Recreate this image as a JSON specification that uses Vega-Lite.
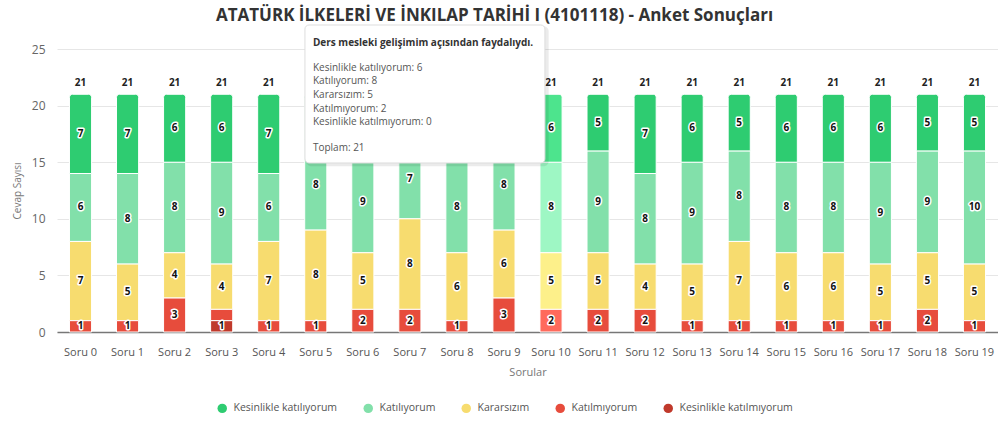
{
  "$schema": "https://vega.github.io/schema/vega-lite/v6.json",
  "autosize": "none",
  "width": 941,
  "height": 283,
  "padding": {"left": 57, "top": 49, "right": 0, "bottom": 91},
  "background": "white",
  "config": {
    "font": "Open Sans",
    "view": {"stroke": null},
    "axis": {"labelFont": "Open Sans", "titleFont": "Open Sans"},
    "legend": {"labelFont": "Open Sans"}
  },
  "title": {
    "text": "ATATÜRK İLKELERİ VE İNKILAP TARİHİ I (4101118) - Anket Sonuçları",
    "fontSize": 17,
    "fontWeight": "bold",
    "color": "#333333",
    "anchor": "middle",
    "dx": -33,
    "offset": 0
  },
  "data": {
    "values": [
      {"soru": "Soru 0", "kategori": "Kesinlikle katılıyorum", "deger": 7},
      {"soru": "Soru 0", "kategori": "Katılıyorum", "deger": 6},
      {"soru": "Soru 0", "kategori": "Kararsızım", "deger": 7},
      {"soru": "Soru 0", "kategori": "Katılmıyorum", "deger": 1},
      {"soru": "Soru 0", "kategori": "Kesinlikle katılmıyorum", "deger": 0},
      {"soru": "Soru 1", "kategori": "Kesinlikle katılıyorum", "deger": 7},
      {"soru": "Soru 1", "kategori": "Katılıyorum", "deger": 8},
      {"soru": "Soru 1", "kategori": "Kararsızım", "deger": 5},
      {"soru": "Soru 1", "kategori": "Katılmıyorum", "deger": 1},
      {"soru": "Soru 1", "kategori": "Kesinlikle katılmıyorum", "deger": 0},
      {"soru": "Soru 2", "kategori": "Kesinlikle katılıyorum", "deger": 6},
      {"soru": "Soru 2", "kategori": "Katılıyorum", "deger": 8},
      {"soru": "Soru 2", "kategori": "Kararsızım", "deger": 4},
      {"soru": "Soru 2", "kategori": "Katılmıyorum", "deger": 3},
      {"soru": "Soru 2", "kategori": "Kesinlikle katılmıyorum", "deger": 0},
      {"soru": "Soru 3", "kategori": "Kesinlikle katılıyorum", "deger": 6},
      {"soru": "Soru 3", "kategori": "Katılıyorum", "deger": 9},
      {"soru": "Soru 3", "kategori": "Kararsızım", "deger": 4},
      {"soru": "Soru 3", "kategori": "Katılmıyorum", "deger": 1},
      {"soru": "Soru 3", "kategori": "Kesinlikle katılmıyorum", "deger": 1},
      {"soru": "Soru 4", "kategori": "Kesinlikle katılıyorum", "deger": 7},
      {"soru": "Soru 4", "kategori": "Katılıyorum", "deger": 6},
      {"soru": "Soru 4", "kategori": "Kararsızım", "deger": 7},
      {"soru": "Soru 4", "kategori": "Katılmıyorum", "deger": 1},
      {"soru": "Soru 4", "kategori": "Kesinlikle katılmıyorum", "deger": 0},
      {"soru": "Soru 5", "kategori": "Kesinlikle katılıyorum", "deger": 4},
      {"soru": "Soru 5", "kategori": "Katılıyorum", "deger": 8},
      {"soru": "Soru 5", "kategori": "Kararsızım", "deger": 8},
      {"soru": "Soru 5", "kategori": "Katılmıyorum", "deger": 1},
      {"soru": "Soru 5", "kategori": "Kesinlikle katılmıyorum", "deger": 0},
      {"soru": "Soru 6", "kategori": "Kesinlikle katılıyorum", "deger": 5},
      {"soru": "Soru 6", "kategori": "Katılıyorum", "deger": 9},
      {"soru": "Soru 6", "kategori": "Kararsızım", "deger": 5},
      {"soru": "Soru 6", "kategori": "Katılmıyorum", "deger": 2},
      {"soru": "Soru 6", "kategori": "Kesinlikle katılmıyorum", "deger": 0},
      {"soru": "Soru 7", "kategori": "Kesinlikle katılıyorum", "deger": 4},
      {"soru": "Soru 7", "kategori": "Katılıyorum", "deger": 7},
      {"soru": "Soru 7", "kategori": "Kararsızım", "deger": 8},
      {"soru": "Soru 7", "kategori": "Katılmıyorum", "deger": 2},
      {"soru": "Soru 7", "kategori": "Kesinlikle katılmıyorum", "deger": 0},
      {"soru": "Soru 8", "kategori": "Kesinlikle katılıyorum", "deger": 6},
      {"soru": "Soru 8", "kategori": "Katılıyorum", "deger": 8},
      {"soru": "Soru 8", "kategori": "Kararsızım", "deger": 6},
      {"soru": "Soru 8", "kategori": "Katılmıyorum", "deger": 1},
      {"soru": "Soru 8", "kategori": "Kesinlikle katılmıyorum", "deger": 0},
      {"soru": "Soru 9", "kategori": "Kesinlikle katılıyorum", "deger": 4},
      {"soru": "Soru 9", "kategori": "Katılıyorum", "deger": 8},
      {"soru": "Soru 9", "kategori": "Kararsızım", "deger": 6},
      {"soru": "Soru 9", "kategori": "Katılmıyorum", "deger": 3},
      {"soru": "Soru 9", "kategori": "Kesinlikle katılmıyorum", "deger": 0},
      {"soru": "Soru 10", "kategori": "Kesinlikle katılıyorum", "deger": 6},
      {"soru": "Soru 10", "kategori": "Katılıyorum", "deger": 8},
      {"soru": "Soru 10", "kategori": "Kararsızım", "deger": 5},
      {"soru": "Soru 10", "kategori": "Katılmıyorum", "deger": 2},
      {"soru": "Soru 10", "kategori": "Kesinlikle katılmıyorum", "deger": 0},
      {"soru": "Soru 11", "kategori": "Kesinlikle katılıyorum", "deger": 5},
      {"soru": "Soru 11", "kategori": "Katılıyorum", "deger": 9},
      {"soru": "Soru 11", "kategori": "Kararsızım", "deger": 5},
      {"soru": "Soru 11", "kategori": "Katılmıyorum", "deger": 2},
      {"soru": "Soru 11", "kategori": "Kesinlikle katılmıyorum", "deger": 0},
      {"soru": "Soru 12", "kategori": "Kesinlikle katılıyorum", "deger": 7},
      {"soru": "Soru 12", "kategori": "Katılıyorum", "deger": 8},
      {"soru": "Soru 12", "kategori": "Kararsızım", "deger": 4},
      {"soru": "Soru 12", "kategori": "Katılmıyorum", "deger": 2},
      {"soru": "Soru 12", "kategori": "Kesinlikle katılmıyorum", "deger": 0},
      {"soru": "Soru 13", "kategori": "Kesinlikle katılıyorum", "deger": 6},
      {"soru": "Soru 13", "kategori": "Katılıyorum", "deger": 9},
      {"soru": "Soru 13", "kategori": "Kararsızım", "deger": 5},
      {"soru": "Soru 13", "kategori": "Katılmıyorum", "deger": 1},
      {"soru": "Soru 13", "kategori": "Kesinlikle katılmıyorum", "deger": 0},
      {"soru": "Soru 14", "kategori": "Kesinlikle katılıyorum", "deger": 5},
      {"soru": "Soru 14", "kategori": "Katılıyorum", "deger": 8},
      {"soru": "Soru 14", "kategori": "Kararsızım", "deger": 7},
      {"soru": "Soru 14", "kategori": "Katılmıyorum", "deger": 1},
      {"soru": "Soru 14", "kategori": "Kesinlikle katılmıyorum", "deger": 0},
      {"soru": "Soru 15", "kategori": "Kesinlikle katılıyorum", "deger": 6},
      {"soru": "Soru 15", "kategori": "Katılıyorum", "deger": 8},
      {"soru": "Soru 15", "kategori": "Kararsızım", "deger": 6},
      {"soru": "Soru 15", "kategori": "Katılmıyorum", "deger": 1},
      {"soru": "Soru 15", "kategori": "Kesinlikle katılmıyorum", "deger": 0},
      {"soru": "Soru 16", "kategori": "Kesinlikle katılıyorum", "deger": 6},
      {"soru": "Soru 16", "kategori": "Katılıyorum", "deger": 8},
      {"soru": "Soru 16", "kategori": "Kararsızım", "deger": 6},
      {"soru": "Soru 16", "kategori": "Katılmıyorum", "deger": 1},
      {"soru": "Soru 16", "kategori": "Kesinlikle katılmıyorum", "deger": 0},
      {"soru": "Soru 17", "kategori": "Kesinlikle katılıyorum", "deger": 6},
      {"soru": "Soru 17", "kategori": "Katılıyorum", "deger": 9},
      {"soru": "Soru 17", "kategori": "Kararsızım", "deger": 5},
      {"soru": "Soru 17", "kategori": "Katılmıyorum", "deger": 1},
      {"soru": "Soru 17", "kategori": "Kesinlikle katılmıyorum", "deger": 0},
      {"soru": "Soru 18", "kategori": "Kesinlikle katılıyorum", "deger": 5},
      {"soru": "Soru 18", "kategori": "Katılıyorum", "deger": 9},
      {"soru": "Soru 18", "kategori": "Kararsızım", "deger": 5},
      {"soru": "Soru 18", "kategori": "Katılmıyorum", "deger": 2},
      {"soru": "Soru 18", "kategori": "Kesinlikle katılmıyorum", "deger": 0},
      {"soru": "Soru 19", "kategori": "Kesinlikle katılıyorum", "deger": 5},
      {"soru": "Soru 19", "kategori": "Katılıyorum", "deger": 10},
      {"soru": "Soru 19", "kategori": "Kararsızım", "deger": 5},
      {"soru": "Soru 19", "kategori": "Katılmıyorum", "deger": 1},
      {"soru": "Soru 19", "kategori": "Kesinlikle katılmıyorum", "deger": 0}
    ]
  },
  "resolve": {"scale": {"x": "independent"}},
  "layer": [
    {
      "transform": [
        {"calculate": "indexof(['Kesinlikle katılmıyorum','Katılmıyorum','Kararsızım','Katılıyorum','Kesinlikle katılıyorum'], datum.kategori)", "as": "sira"},
        {"stack": "deger", "groupby": ["soru"], "sort": [{"field": "sira", "order": "ascending"}], "as": ["alt", "ust"]},
        {"calculate": "(datum.alt + datum.ust) / 2", "as": "orta"},
        {"calculate": "indexof(['Soru 5','Soru 6','Soru 7','Soru 8','Soru 9'], datum.soru) >= 0", "as": "ortuk"}
      ],
      "encoding": {
        "x": {
          "field": "soru",
          "type": "nominal",
          "sort": ["Soru 0","Soru 1","Soru 2","Soru 3","Soru 4","Soru 5","Soru 6","Soru 7","Soru 8","Soru 9","Soru 10","Soru 11","Soru 12","Soru 13","Soru 14","Soru 15","Soru 16","Soru 17","Soru 18","Soru 19"],
          "scale": {"paddingInner": 0.53, "paddingOuter": 0.265},
          "axis": {
            "title": "Sorular",
            "titleFontSize": 11,
            "titleFontWeight": "normal",
            "titleColor": "#777777",
            "titlePadding": 9,
            "labelAngle": 0,
            "labelFontSize": 11,
            "labelColor": "#555555",
            "labelPadding": 14,
            "ticks": false,
            "domainColor": "#777777",
            "domainWidth": 1.5,
            "grid": false
          }
        }
      },
      "layer": [
        {
          "transform": [{"filter": "datum.deger > 0 && datum.soru !== 'Soru 10' && datum.kategori !== 'Kesinlikle katılıyorum'"}],
          "mark": {"type": "bar", "stroke": "white", "strokeWidth": 1},
          "encoding": {
            "y": {
              "field": "ust",
              "type": "quantitative",
              "scale": {"domain": [0, 25], "nice": false},
              "axis": {
                "title": "Cevap Sayısı",
                "titleFontSize": 10,
                "titleFontWeight": "normal",
                "titleColor": "#777777",
                "titlePadding": 9,
                "values": [0, 5, 10, 15, 20, 25],
                "labelFontSize": 12,
                "labelColor": "#666666",
                "labelPadding": 12,
                "ticks": false,
                "domain": false,
                "gridColor": "#e6e6e6"
              }
            },
            "y2": {"field": "alt"},
            "color": {
              "field": "kategori",
              "type": "nominal",
              "scale": {
                "domain": ["Kesinlikle katılıyorum", "Katılıyorum", "Kararsızım", "Katılmıyorum", "Kesinlikle katılmıyorum"],
                "range": ["#2ecc71", "#82e0aa", "#f7dc6f", "#e74c3c", "#c0392b"]
              },
              "legend": {
                "title": null,
                "orient": "none",
                "direction": "horizontal",
                "columns": 5,
                "columnPadding": 25,
                "legendX": 160,
                "legendY": 354,
                "symbolType": "circle",
                "symbolSize": 90,
                "symbolStrokeWidth": 0,
                "labelFontSize": 10.5,
                "labelColor": "#555555",
                "labelOffset": 6
              }
            }
          }
        },
        {
          "transform": [{"filter": "datum.deger > 0 && datum.soru !== 'Soru 10' && datum.kategori === 'Kesinlikle katılıyorum'"}],
          "mark": {"type": "bar", "stroke": "white", "strokeWidth": 1, "cornerRadiusTopLeft": 3, "cornerRadiusTopRight": 3},
          "encoding": {
            "y": {"field": "ust", "type": "quantitative"},
            "y2": {"field": "alt"},
            "color": {"field": "kategori", "type": "nominal"}
          }
        },
        {
          "transform": [{"filter": "datum.deger > 0 && datum.soru === 'Soru 10' && datum.kategori !== 'Kesinlikle katılıyorum'"}],
          "mark": {"type": "bar", "stroke": "white", "strokeWidth": 1},
          "encoding": {
            "y": {"field": "ust", "type": "quantitative"},
            "y2": {"field": "alt"},
            "fill": {
              "field": "kategori",
              "type": "nominal",
              "scale": {
                "domain": ["Kesinlikle katılıyorum", "Katılıyorum", "Kararsızım", "Katılmıyorum", "Kesinlikle katılmıyorum"],
                "range": ["#4de48d", "#9ef7c4", "#fdf08a", "#ff6a5c", "#d94432"]
              },
              "legend": null
            }
          }
        },
        {
          "transform": [{"filter": "datum.deger > 0 && datum.soru === 'Soru 10' && datum.kategori === 'Kesinlikle katılıyorum'"}],
          "mark": {"type": "bar", "stroke": "white", "strokeWidth": 1, "cornerRadiusTopLeft": 3, "cornerRadiusTopRight": 3},
          "encoding": {
            "y": {"field": "ust", "type": "quantitative"},
            "y2": {"field": "alt"},
            "fill": {"field": "kategori", "type": "nominal", "legend": null}
          }
        },
        {
          "transform": [{"filter": "datum.deger > 0 && !(datum.soru === 'Soru 3' && datum.kategori === 'Katılmıyorum') && !(datum.ortuk && datum.orta > 15)"}],
          "mark": {"type": "text", "fontSize": 10, "fontWeight": "bold", "color": "white", "stroke": "white", "strokeWidth": 3, "strokeJoin": "round", "baseline": "middle"},
          "encoding": {
            "y": {"field": "orta", "type": "quantitative"},
            "text": {"field": "deger", "type": "quantitative"}
          }
        },
        {
          "transform": [{"filter": "datum.deger > 0 && !(datum.soru === 'Soru 3' && datum.kategori === 'Katılmıyorum') && !(datum.ortuk && datum.orta > 15)"}],
          "mark": {"type": "text", "fontSize": 10, "fontWeight": "bold", "color": "#111111", "baseline": "middle"},
          "encoding": {
            "y": {"field": "orta", "type": "quantitative"},
            "text": {"field": "deger", "type": "quantitative"}
          }
        },
        {
          "transform": [
            {"filter": "!datum.ortuk"},
            {"aggregate": [{"op": "sum", "field": "deger", "as": "toplam"}], "groupby": ["soru"]}
          ],
          "mark": {"type": "text", "fontSize": 10, "fontWeight": "bold", "color": "#222222", "baseline": "middle", "dy": -11},
          "encoding": {
            "y": {"field": "toplam", "type": "quantitative"},
            "text": {"field": "toplam", "type": "quantitative"}
          }
        }
      ]
    },
    {
      "data": {"values": [{"baslik": "Ders mesleki gelişimim açısından faydalıydı.", "s1": "Kesinlikle katılıyorum: 6", "s2": "Katılıyorum: 8", "s3": "Kararsızım: 5", "s4": "Katılmıyorum: 2", "s5": "Kesinlikle katılmıyorum: 0", "toplam": "Toplam: 21"}]},
      "encoding": {},
      "layer": [
        {
          "mark": {"type": "rect", "fill": "#000000", "opacity": 0.08, "cornerRadius": 5},
          "encoding": {
            "x": {"datum": 5.30, "type": "quantitative", "scale": {"domain": [0, 20], "nice": false, "zero": false}, "axis": null},
            "x2": {"datum": 10.45},
            "y": {"datum": 27.0, "type": "quantitative"},
            "y2": {"datum": 14.65}
          }
        },
        {
          "mark": {"type": "rect", "fill": "white", "stroke": "#dddddd", "strokeWidth": 1, "cornerRadius": 4},
          "encoding": {
            "x": {"datum": 5.27, "type": "quantitative"},
            "x2": {"datum": 10.37},
            "y": {"datum": 27.12, "type": "quantitative"},
            "y2": {"datum": 14.93}
          }
        },
        {
          "mark": {"type": "text", "align": "left", "baseline": "middle", "fontSize": 10, "fontWeight": "bold", "color": "#333333"},
          "encoding": {"x": {"datum": 5.44, "type": "quantitative"}, "y": {"datum": 25.53, "type": "quantitative"}, "text": {"field": "baslik"}}
        },
        {
          "mark": {"type": "text", "align": "left", "baseline": "middle", "fontSize": 10, "color": "#555555"},
          "encoding": {"x": {"datum": 5.44, "type": "quantitative"}, "y": {"datum": 23.32, "type": "quantitative"}, "text": {"field": "s1"}}
        },
        {
          "mark": {"type": "text", "align": "left", "baseline": "middle", "fontSize": 10, "color": "#555555"},
          "encoding": {"x": {"datum": 5.44, "type": "quantitative"}, "y": {"datum": 22.13, "type": "quantitative"}, "text": {"field": "s2"}}
        },
        {
          "mark": {"type": "text", "align": "left", "baseline": "middle", "fontSize": 10, "color": "#555555"},
          "encoding": {"x": {"datum": 5.44, "type": "quantitative"}, "y": {"datum": 20.94, "type": "quantitative"}, "text": {"field": "s3"}}
        },
        {
          "mark": {"type": "text", "align": "left", "baseline": "middle", "fontSize": 10, "color": "#555555"},
          "encoding": {"x": {"datum": 5.44, "type": "quantitative"}, "y": {"datum": 19.74, "type": "quantitative"}, "text": {"field": "s4"}}
        },
        {
          "mark": {"type": "text", "align": "left", "baseline": "middle", "fontSize": 10, "color": "#555555"},
          "encoding": {"x": {"datum": 5.44, "type": "quantitative"}, "y": {"datum": 18.55, "type": "quantitative"}, "text": {"field": "s5"}}
        },
        {
          "mark": {"type": "text", "align": "left", "baseline": "middle", "fontSize": 10, "color": "#555555"},
          "encoding": {"x": {"datum": 5.44, "type": "quantitative"}, "y": {"datum": 16.25, "type": "quantitative"}, "text": {"field": "toplam"}}
        }
      ]
    }
  ]
}
